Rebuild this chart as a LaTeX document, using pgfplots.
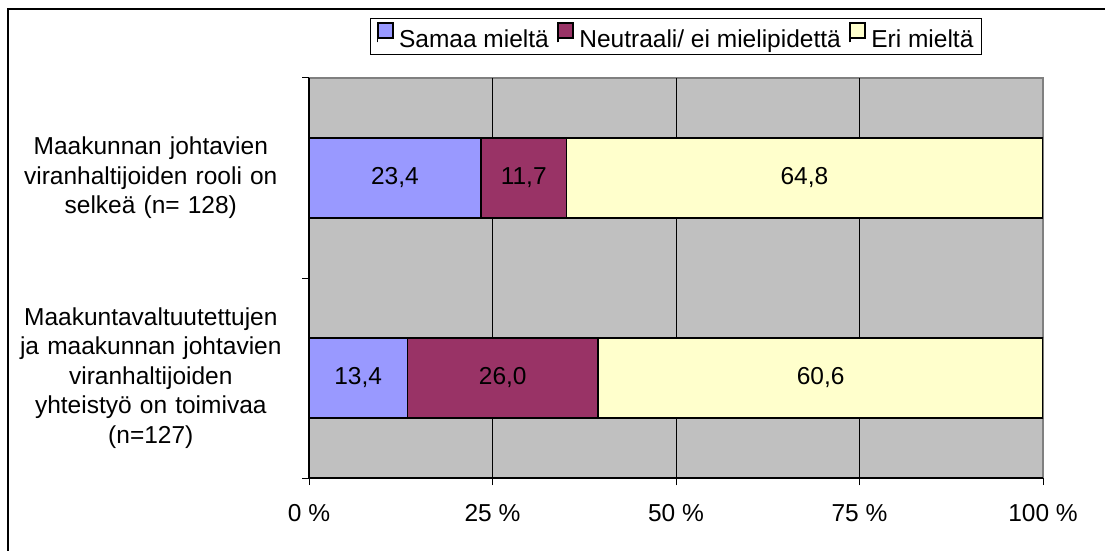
\documentclass[border=0pt]{standalone}
\usepackage{fontspec}
\setmainfont{Liberation Sans}
\usepackage{pgfplots}
\pgfplotsset{compat=1.18}
\definecolor{plotgrey}{HTML}{C0C0C0}
\definecolor{bordergrey}{HTML}{808080}
\definecolor{cblue}{HTML}{9999FF}
\definecolor{cpurple}{HTML}{993366}
\definecolor{cyellow}{HTML}{FFFFCC}
\newcommand{\cf}{\fontsize{24.5}{29.5}\selectfont}
\begin{document}
\begin{tikzpicture}[x=1pt,y=1pt]
\useasboundingbox (0,0) rectangle (1105,550);
\fill[white] (0,0) rectangle (1105,550);
\draw[line width=2pt] (8,-20) -- (8,541) -- (1130,541);
\begin{axis}[
  at={(309pt,72pt)}, anchor=south west,
  scale only axis, width=734pt, height=400pt,
  xbar stacked, bar width=0.4,
  xmin=0, xmax=100, ymin=-0.5, ymax=1.5,
  axis background/.style={fill=plotgrey, draw=bordergrey, line width=1.5pt},
  axis x line*=bottom, axis y line*=left,
  axis line style={black, line width=1.2pt},
  xtick={0,25,50,75,100},
  xticklabels={0 \%,25 \%,50 \%,75 \%,100 \%},
  extra x ticks={25,50,75}, extra x tick labels={},
  extra x tick style={grid=major, major grid style={black, line width=1pt}},
  tick align=outside,
  major tick length=7pt, minor tick length=7pt,
  tick style={black, line width=1pt},
  ytick={0,1},
  minor ytick={-0.5,0.5,1.5},
  every major y tick/.style={draw=none},
  yticklabels={{Maakuntavaltuutettujen\\ja maakunnan johtavien\\viranhaltijoiden\\yhteistyö on toimivaa\\(n=127)},
               {Maakunnan johtavien\\viranhaltijoiden rooli on\\selkeä (n= 128)}},
  yticklabel style={font=\cf, text width=290pt, align=center, inner sep=0pt, xshift=-6pt},
  xticklabel style={font=\cf, yshift=-16pt},
  legend columns=3,
  legend style={at={(0.5,1.104)}, anchor=center, draw=black, line width=1pt, font=\cf,
     inner xsep=6pt, inner ysep=3pt,
     /tikz/every odd column/.append style={column sep=3pt},
     /tikz/every even column/.append style={column sep=6pt}},
  legend image code/.code={\path (0pt,-3pt) -- (0pt,0pt);
     \draw[#1, line width=2pt, draw=black] (0pt,1.25pt) rectangle (15.5pt,16.75pt);},
  nodes near coords={\pgfmathprintnumber[fixed,fixed zerofill,precision=1,use comma,assume math mode=true]{\pgfplotspointmeta}},
  every node near coord/.append style={font=\cf, black, anchor=center},
]
\addplot[fill=cblue, draw=black, line width=1.5pt] coordinates {(13.4,0) (23.4,1)};
\addplot[fill=cpurple, draw=black, line width=1.5pt] coordinates {(26.0,0) (11.7,1)};
\addplot[fill=cyellow, draw=black, line width=1.5pt] coordinates {(60.6,0) (64.8,1)};
\legend{Samaa mieltä, Neutraali/ ei mielipidettä, Eri mieltä}
\end{axis}
\end{tikzpicture}
\end{document}
